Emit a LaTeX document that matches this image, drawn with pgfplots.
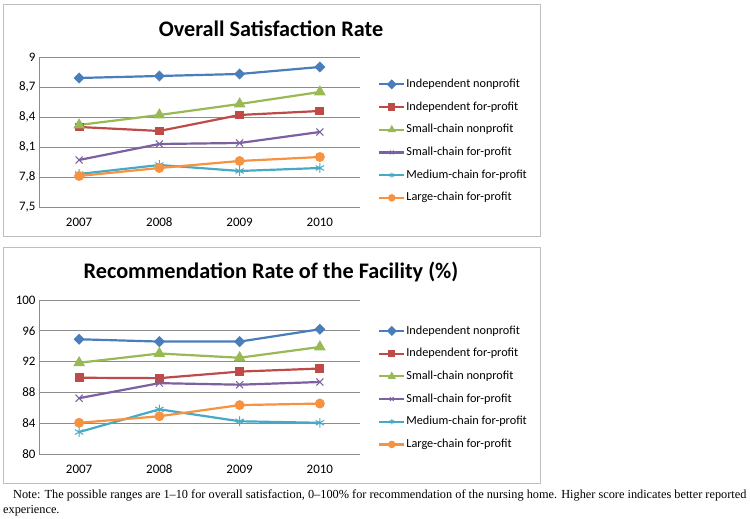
\documentclass[border=0pt]{standalone}
\usepackage{fontspec}
\setmainfont{Carlito}
\newfontfamily\notefont{Liberation Serif}
\usepackage{pgfplots}
\pgfplotsset{compat=1.18}
\definecolor{cblue}{HTML}{4A7EBB}
\definecolor{cred}{HTML}{BE4B48}
\definecolor{cgreen}{HTML}{98B954}
\definecolor{cpurple}{HTML}{7D60A0}
\definecolor{ccyan}{HTML}{46AAC5}
\definecolor{corange}{HTML}{F69240}
\definecolor{gridc}{HTML}{8C8C8C}
\definecolor{framec}{HTML}{BFBFBF}
\pgfplotsset{
  common/.style={
    scale only axis, width=321bp,
    xmin=-0.5, xmax=3.5, xtick={0,1,2,3}, xticklabels={2007,2008,2009,2010},
    axis x line*=bottom, axis y line*=left,
    axis line style={gridc, line width=0.8bp, -},
    major tick length=0pt,
    ymajorgrids, grid style={gridc, line width=0.8bp},
    tick label style={font=\fontsize{13}{15}\selectfont, black},
    xticklabel style={anchor=base, yshift=-19.5bp},
    /pgf/number format/assume math mode=true,
    /pgf/number format/use comma,
    /pgf/number format/1000 sep={},
    legend cell align=left,
    legend style={draw=none, fill=none, anchor=north west, inner sep=0pt,
      font=\fontsize{12.3}{14}\selectfont, row sep=8.9bp,
      nodes={inner sep=1bp, text height=9bp, text depth=2.8bp}},
    legend image code/.code={\draw[mark repeat=2,mark phase=2, mark size=2.6bp] plot coordinates {(0bp,0bp) (12.5bp,0bp) (25bp,0bp)};},
    every axis plot/.append style={line width=2.2bp},
  },
  s1/.style={cblue, mark=square*, mark options={rotate=45, solid, fill=cblue, scale=0.95}, mark size=3bp},
  s2/.style={cred, mark=square*, mark options={solid, fill=cred}, mark size=3.3bp},
  s3/.style={cgreen, mark=triangle*, mark options={solid, fill=cgreen}, mark size=4.6bp},
  s4/.style={cpurple, mark=x, mark options={solid, line width=1bp}, mark size=5bp},
  s5/.style={ccyan, mark=asterisk, mark options={solid, line width=1bp}, mark size=4.8bp},
  s6/.style={corange, mark=*, mark options={solid, fill=corange}, mark size=3.8bp},
}
\begin{document}
\begin{tikzpicture}[x=1bp,y=1bp]
\useasboundingbox (0,0) rectangle (750,519);
\draw[framec, line width=1bp] (3,282) rectangle (540,514);
\draw[framec, line width=1bp] (3,35) rectangle (540,271);

\begin{axis}[common, at={(39bp,312bp)}, anchor=south west, height=150bp,
  ymin=7.5, ymax=9, ytick={7.5,7.8,8.1,8.4,8.7,9},
  legend style={at={(1.056,0.865)}}]
\addplot[s1] coordinates {(0,8.79) (1,8.81) (2,8.83) (3,8.90)};
\addlegendentry{Independent nonprofit}
\addplot[s2] coordinates {(0,8.30) (1,8.26) (2,8.42) (3,8.46)};
\addlegendentry{Independent for-profit}
\addplot[s3] coordinates {(0,8.32) (1,8.42) (2,8.53) (3,8.65)};
\addlegendentry{Small-chain nonprofit}
\addplot[s4] coordinates {(0,7.97) (1,8.13) (2,8.14) (3,8.25)};
\addlegendentry{Small-chain for-profit}
\addplot[s5] coordinates {(0,7.83) (1,7.92) (2,7.86) (3,7.89)};
\addlegendentry{Medium-chain for-profit}
\addplot[s6] coordinates {(0,7.81) (1,7.89) (2,7.96) (3,8.00)};
\addlegendentry{Large-chain for-profit}
\end{axis}

\begin{axis}[common, at={(39bp,65bp)}, anchor=south west, height=154bp,
  ymin=80, ymax=100, ytick={80,84,88,92,96,100},
  legend style={at={(1.056,0.845)}}]
\addplot[s1] coordinates {(0,94.9) (1,94.6) (2,94.6) (3,96.2)};
\addlegendentry{Independent nonprofit}
\addplot[s2] coordinates {(0,89.9) (1,89.85) (2,90.7) (3,91.1)};
\addlegendentry{Independent for-profit}
\addplot[s3] coordinates {(0,91.85) (1,93.05) (2,92.5) (3,93.9)};
\addlegendentry{Small-chain nonprofit}
\addplot[s4] coordinates {(0,87.25) (1,89.2) (2,89.0) (3,89.35)};
\addlegendentry{Small-chain for-profit}
\addplot[s5] coordinates {(0,82.85) (1,85.8) (2,84.25) (3,84.05)};
\addlegendentry{Medium-chain for-profit}
\addplot[s6] coordinates {(0,84.05) (1,84.9) (2,86.35) (3,86.55)};
\addlegendentry{Large-chain for-profit}
\end{axis}

\node[font=\fontsize{22.3}{24}\selectfont\bfseries] at (271,490) {Overall Satisfaction Rate};
\node[font=\fontsize{22.3}{24}\selectfont\bfseries] at (271,247) {Recommendation Rate of the Facility (\%)};

\node[anchor=base west, inner sep=0pt, font=\notefont\fontsize{12.35}{14}\selectfont] at (13,20) {Note: The possible ranges are 1–10 for overall satisfaction, 0–100\% for recommendation of the nursing home. Higher score indicates better reported};
\node[anchor=base west, inner sep=0pt, font=\notefont\fontsize{12.35}{14}\selectfont] at (3,5.5) {experience.};
\end{tikzpicture}
\end{document}
